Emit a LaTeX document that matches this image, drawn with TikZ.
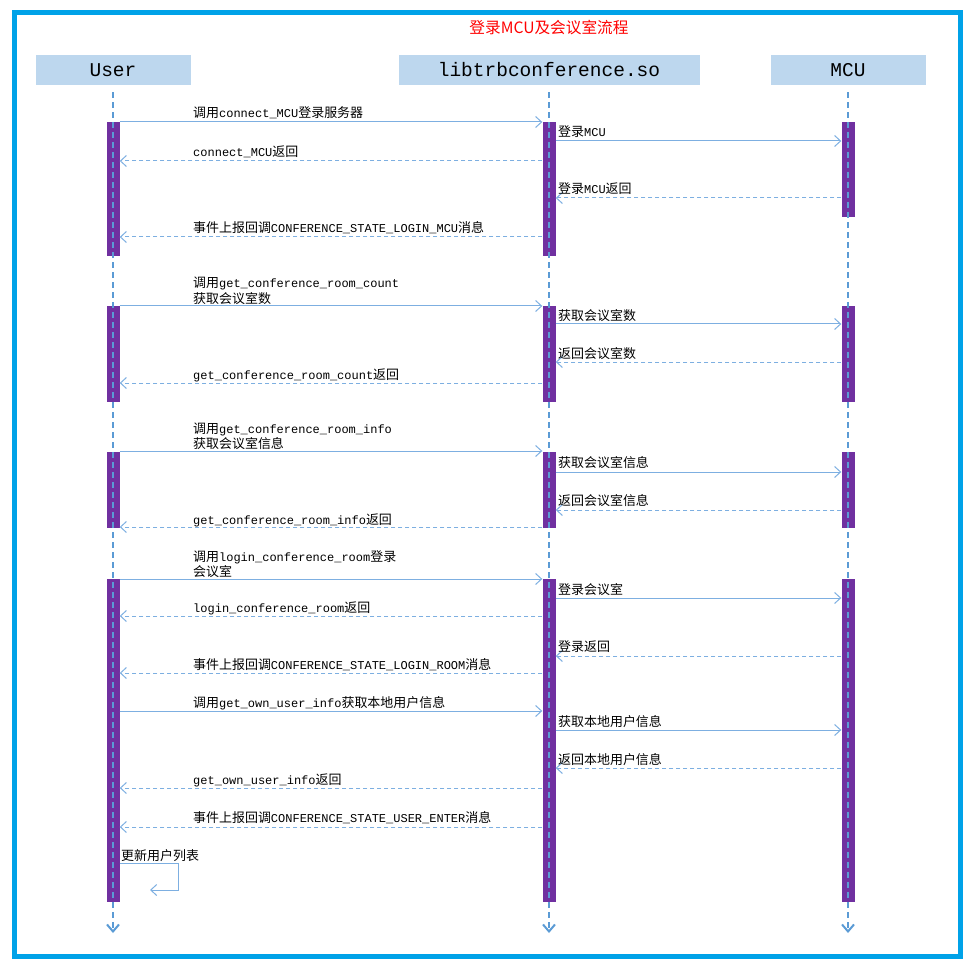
\documentclass[tikz,border=0pt]{standalone}
\usepackage{fontspec}
\setmainfont[Scale=1.08]{Noto Sans CJK SC}
\setmonofont{Liberation Mono}
\usetikzlibrary{arrows.meta,calc,positioning}
\definecolor{FrameBlue}{RGB}{0,162,232}
\definecolor{HeadBlue}{RGB}{189,215,238}
\definecolor{LineBlue}{RGB}{91,155,213}
\definecolor{MsgBlue}{RGB}{125,175,225}
\definecolor{BarPurple}{RGB}{112,48,160}

\begin{document}
\begin{tikzpicture}[x=1pt,y=-1pt,
  head/.style={fill=HeadBlue,minimum height=30pt,inner sep=0pt,font=\ttfamily\fontsize{19.5}{20}\selectfont},
  act/.style={fill=BarPurple,minimum width=13pt,inner sep=0pt},
  life/.style={LineBlue,line width=2pt,dash pattern=on 6pt off 4pt,-{Straight Barb[length=7pt,width=12pt]}},
  call/.style={MsgBlue,line width=1pt,-{Straight Barb[length=6pt,width=11pt]}},
  ret/.style={call,dash pattern=on 4pt off 3pt},
  lbl/.style={anchor=base west,inner sep=0pt,align=left,font=\fontsize{12}{15.5}\selectfont}]
\useasboundingbox (0,0) rectangle (971,965);
\draw[FrameBlue,line width=5pt] (14.5,12.5) rectangle (960,956.5);
\node[red,font=\fontsize{14.5}{16}\selectfont] (title) at (549,27.5) {登录MCU及会议室流程};
% heads
\node[head,minimum width=155pt] (hu) at (113,70) {User};
\node[head,minimum width=301pt] (hl) at (549,70) {libtrbconference.so};
\node[head,minimum width=155pt] (hm) at (848,70) {MCU};
% activation bars
\node[act,minimum height=134pt] (ua1) at (113,189) {};
\node[act,minimum height=96pt] (ua2) at (113,354) {};
\node[act,minimum height=76pt] (ua3) at (113,490) {};
\node[act,minimum height=323pt] (ua4) at (113,740.5) {};
\node[act,minimum height=134pt] (la1) at (549,189) {};
\node[act,minimum height=96pt] (la2) at (549,354) {};
\node[act,minimum height=76pt] (la3) at (549,490) {};
\node[act,minimum height=323pt] (la4) at (549,740.5) {};
\node[act,minimum height=95pt] (ma1) at (848,169.5) {};
\node[act,minimum height=96pt] (ma2) at (848,354) {};
\node[act,minimum height=76pt] (ma3) at (848,490) {};
\node[act,minimum height=323pt] (ma4) at (848,740.5) {};
% lifelines
\coordinate (ue) at (113,933);
\coordinate (le) at (549,933);
\coordinate (me) at (848,933);
\draw[life] ([yshift=-7pt]hu.south) -- (ue);
\draw[life] ([yshift=-7pt]hl.south) -- (le);
\draw[life] ([yshift=-7pt]hm.south) -- (me);
% login MCU
\draw[call] (ua1.east |- 0,122) -- (la1.west |- 0,122);
\node[lbl] (m1) at (193,118) {调用\texttt{connect\_MCU}登录服务器};
\draw[call] (la1.east |- 0,141) -- (ma1.west |- 0,141);
\node[lbl] (m2) at (558,137) {登录\texttt{MCU}};
\draw[ret] (la1.west |- 0,161) -- (ua1.east |- 0,161);
\node[lbl] (m3) at (193,157) {\texttt{connect\_MCU}返回};
\draw[ret] (ma1.west |- 0,198) -- (la1.east |- 0,198);
\node[lbl] (m4) at (558,194) {登录\texttt{MCU}返回};
\draw[ret] (la1.west |- 0,237) -- (ua1.east |- 0,237);
\node[lbl] (m5) at (193,233) {事件上报回调\texttt{CONFERENCE\_STATE\_LOGIN\_MCU}消息};
% room count
\draw[call] (ua2.east |- 0,306) -- (la2.west |- 0,306);
\node[lbl] (m6) at (193,303.5) {调用\texttt{get\_conference\_room\_count}\\获取会议室数};
\draw[call] (la2.east |- 0,324) -- (ma2.west |- 0,324);
\node[lbl] (m7) at (558,320) {获取会议室数};
\draw[ret] (ma2.west |- 0,362) -- (la2.east |- 0,362);
\node[lbl] (m8) at (558,358) {返回会议室数};
\draw[ret] (la2.west |- 0,383) -- (ua2.east |- 0,383);
\node[lbl] (m9) at (193,379) {\texttt{get\_conference\_room\_count}返回};
% room info
\draw[call] (ua3.east |- 0,451) -- (la3.west |- 0,451);
\node[lbl] (m10) at (193,448.5) {调用\texttt{get\_conference\_room\_info}\\获取会议室信息};
\draw[call] (la3.east |- 0,472) -- (ma3.west |- 0,472);
\node[lbl] (m11) at (558,467) {获取会议室信息};
\draw[ret] (ma3.west |- 0,510) -- (la3.east |- 0,510);
\node[lbl] (m12) at (558,505) {返回会议室信息};
\draw[ret] (la3.west |- 0,527) -- (ua3.east |- 0,527);
\node[lbl] (m13) at (193,524) {\texttt{get\_conference\_room\_info}返回};
% login room
\draw[call] (ua4.east |- 0,579) -- (la4.west |- 0,579);
\node[lbl] (m14) at (193,576.5) {调用\texttt{login\_conference\_room}登录\\会议室};
\draw[call] (la4.east |- 0,598) -- (ma4.west |- 0,598);
\node[lbl] (m15) at (558,594) {登录会议室};
\draw[ret] (la4.west |- 0,616) -- (ua4.east |- 0,616);
\node[lbl] (m16) at (193,612) {\texttt{login\_conference\_room}返回};
\draw[ret] (ma4.west |- 0,656) -- (la4.east |- 0,656);
\node[lbl] (m17) at (558,651) {登录返回};
\draw[ret] (la4.west |- 0,673) -- (ua4.east |- 0,673);
\node[lbl] (m18) at (193,669) {事件上报回调\texttt{CONFERENCE\_STATE\_LOGIN\_ROOM}消息};
% own user info
\draw[call] (ua4.east |- 0,711) -- (la4.west |- 0,711);
\node[lbl] (m19) at (193,707) {调用\texttt{get\_own\_user\_info}获取本地用户信息};
\draw[call] (la4.east |- 0,730) -- (ma4.west |- 0,730);
\node[lbl] (m20) at (558,726) {获取本地用户信息};
\draw[ret] (ma4.west |- 0,768) -- (la4.east |- 0,768);
\node[lbl] (m21) at (558,764) {返回本地用户信息};
\draw[ret] (la4.west |- 0,788) -- (ua4.east |- 0,788);
\node[lbl] (m22) at (193,784) {\texttt{get\_own\_user\_info}返回};
\draw[ret] (la4.west |- 0,827) -- (ua4.east |- 0,827);
\node[lbl] (m23) at (193,822) {事件上报回调\texttt{CONFERENCE\_STATE\_USER\_ENTER}消息};
% self message
\coordinate (selfend) at (150,890);
\draw[call] (ua4.east |- 0,863) -| (178,890) -- (selfend);
\node[lbl] (m24) at (121,860) {更新用户列表};
\end{tikzpicture}
\end{document}
